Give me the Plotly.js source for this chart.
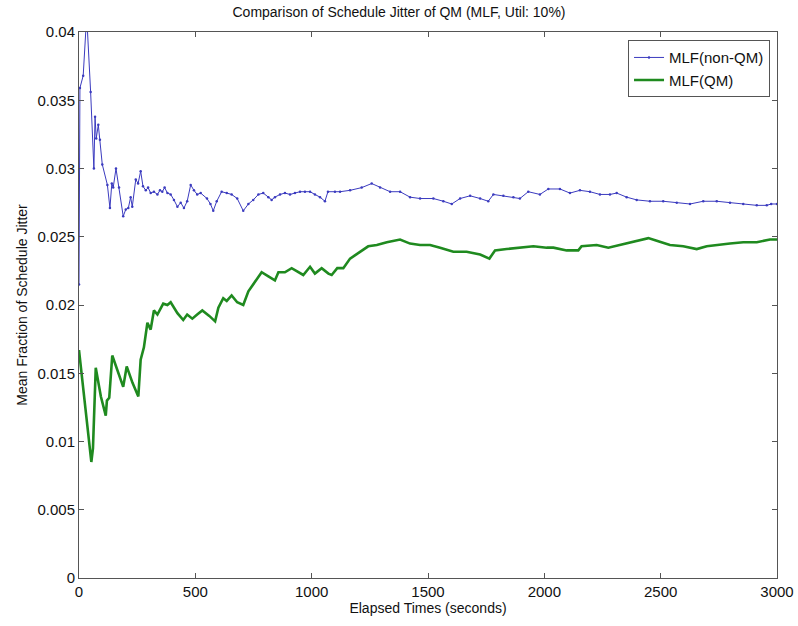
<!DOCTYPE html>
<html>
<head>
<meta charset="utf-8">
<script src="https://cdn.plot.ly/plotly-3.0.1.min.js"></script>
<style>
  html, body { margin: 0; padding: 0; background: #ffffff; }
  #chart { width: 798px; height: 626px; }
</style>
</head>
<body>
<div id="chart"></div>
<script>
// Mean fraction of schedule jitter over elapsed time, MLF scheduler at 10% utilisation
const nonQmTime = [0, 4, 18, 33, 50, 64, 69, 74, 83, 90, 100, 122, 133, 141, 147, 159, 172, 190, 201, 212,
  222, 229, 244, 254, 265, 275, 287, 297, 308, 322, 337, 348, 358, 368, 380, 394, 408, 423, 437, 451,
  465, 480, 494, 508, 523, 550, 565, 577, 592, 613, 635, 656, 680, 706, 728, 749, 771, 792, 814, 828,
  842, 864, 885, 907, 928, 950, 971, 993, 1014, 1036, 1057, 1070, 1100, 1122, 1165, 1215, 1258, 1294, 1337, 1380,
  1423, 1466, 1523, 1566, 1602, 1638, 1681, 1724, 1759, 1781, 1824, 1867, 1895, 1931, 1981, 2017, 2067, 2110, 2153, 2196,
  2239, 2282, 2311, 2354, 2397, 2454, 2511, 2569, 2626, 2683, 2741, 2798, 2855, 2913, 2956, 2975, 3000];
const nonQmJitter = [0.0215, 0.0359, 0.0368, 0.0412, 0.0356, 0.0300, 0.0338, 0.0322, 0.0332, 0.0321, 0.0303, 0.0288, 0.0271, 0.0289, 0.0286, 0.0300, 0.0286, 0.0265, 0.0270, 0.0271,
  0.0279, 0.0272, 0.0292, 0.0289, 0.0298, 0.0287, 0.0284, 0.0286, 0.0282, 0.0283, 0.0281, 0.0284, 0.0283, 0.0286, 0.0282, 0.0281, 0.0277, 0.0272, 0.0275, 0.0271,
  0.0276, 0.0288, 0.0284, 0.0281, 0.0282, 0.0278, 0.0274, 0.0269, 0.0276, 0.0283, 0.0282, 0.0281, 0.0278, 0.0269, 0.0274, 0.0277, 0.0281, 0.0282, 0.0279, 0.0277,
  0.0279, 0.0281, 0.0282, 0.0281, 0.0282, 0.0283, 0.0283, 0.0283, 0.0281, 0.0279, 0.0276, 0.0283, 0.0283, 0.0283, 0.0284, 0.0286, 0.0289, 0.0286, 0.0283, 0.0283,
  0.0279, 0.0278, 0.0278, 0.0276, 0.0274, 0.0278, 0.0280, 0.0278, 0.0276, 0.0281, 0.0280, 0.0279, 0.0278, 0.0283, 0.0281, 0.0285, 0.0285, 0.0282, 0.0284, 0.0283,
  0.0281, 0.0281, 0.0282, 0.0279, 0.0277, 0.0276, 0.0276, 0.0275, 0.0274, 0.0276, 0.0276, 0.0275, 0.0274, 0.0273, 0.0273, 0.0274, 0.0274];

const qmTime = [0, 53, 60, 72, 94, 115, 120, 130, 143, 165, 190, 205, 230, 255, 265, 279, 294, 308, 322, 337,
  362, 380, 394, 423, 448, 465, 487, 508, 530, 560, 585, 599, 620, 635, 656, 680, 706, 728, 749, 771,
  785, 814, 842, 857, 885, 914, 943, 964, 993, 1014, 1043, 1072, 1086, 1110, 1136, 1165, 1200, 1243, 1280, 1323,
  1380, 1423, 1466, 1509, 1552, 1609, 1666, 1724, 1764, 1788, 1838, 1895, 1953, 2010, 2039, 2096, 2146, 2160, 2225, 2275,
  2325, 2368, 2411, 2447, 2483, 2540, 2597, 2655, 2698, 2741, 2798, 2855, 2913, 2970, 3000];
const qmJitter = [0.0167, 0.0085, 0.0095, 0.0154, 0.0133, 0.0119, 0.0130, 0.0132, 0.0163, 0.0152, 0.0140, 0.0155, 0.0143, 0.0133, 0.0160, 0.0169, 0.0187, 0.0182, 0.0196, 0.0193,
  0.0201, 0.0200, 0.0202, 0.0194, 0.0189, 0.0193, 0.0190, 0.0193, 0.0196, 0.0192, 0.0188, 0.0198, 0.0205, 0.0203, 0.0207, 0.0202, 0.0200, 0.0210, 0.0215, 0.0221,
  0.0224, 0.0221, 0.0218, 0.0224, 0.0224, 0.0227, 0.0224, 0.0222, 0.0228, 0.0223, 0.0227, 0.0223, 0.0222, 0.0227, 0.0227, 0.0234, 0.0238, 0.0243, 0.0244, 0.0246,
  0.0248, 0.0245, 0.0244, 0.0244, 0.0242, 0.0239, 0.0239, 0.0237, 0.0234, 0.0240, 0.0241, 0.0242, 0.0243, 0.0242, 0.0242, 0.0240, 0.0240, 0.0243, 0.0244, 0.0242,
  0.0244, 0.0246, 0.0248, 0.0249, 0.0247, 0.0244, 0.0243, 0.0241, 0.0243, 0.0244, 0.0245, 0.0246, 0.0246, 0.0248, 0.0248];

const xTicks = [0, 500, 1000, 1500, 2000, 2500, 3000];
const yTicks = [0, 0.005, 0.01, 0.015, 0.02, 0.025, 0.03, 0.035, 0.04];
const yTickText = ['0', '0.005', '0.01', '0.015', '0.02', '0.025', '0.03', '0.035', '0.04'];

const font = 'Liberation Sans, Arial, sans-serif';

const traces = [
  {
    x: nonQmTime, y: nonQmJitter, name: 'MLF(non-QM)', type: 'scatter', mode: 'lines+markers',
    line: { color: '#3b3bbf', width: 1 },
    marker: { color: '#3b3bbf', size: 2.5 }
  },
  {
    x: qmTime, y: qmJitter, name: 'MLF(QM)', type: 'scatter', mode: 'lines',
    line: { color: '#1f8a1f', width: 2.6 }
  }
];

const axisCommon = {
  showgrid: false, zeroline: false,
  showline: true, linecolor: '#555555', linewidth: 1,
  mirror: 'ticks', ticks: 'inside', ticklen: 5, tickcolor: '#555555',
  tickfont: { family: font, size: 15, color: '#111111' }
};

const layout = {
  width: 798, height: 626,
  paper_bgcolor: '#ffffff', plot_bgcolor: '#ffffff',
  margin: { l: 79, r: 21, t: 32, b: 48 },
  title: {
    text: 'Comparison of Schedule Jitter of QM (MLF, Util: 10%)',
    font: { family: font, size: 14, color: '#111111' },
    x: 0.5, xanchor: 'center', y: 0.981, yanchor: 'middle', yref: 'container'
  },
  xaxis: Object.assign({}, axisCommon, {
    range: [0, 3000], tickvals: xTicks, ticktext: xTicks.map(String),
    title: { text: 'Elapsed Times (seconds)', font: { family: font, size: 14, color: '#111111' }, standoff: 2 }
  }),
  yaxis: Object.assign({}, axisCommon, {
    range: [0, 0.04], tickvals: yTicks, ticktext: yTickText,
    title: { text: 'Mean Fraction of Schedule Jitter', font: { family: font, size: 14, color: '#111111' }, standoff: 6 }
  }),
  showlegend: true,
  legend: {
    x: 0.99, xanchor: 'right', y: 0.985, yanchor: 'top',
    bgcolor: '#ffffff', bordercolor: '#555555', borderwidth: 1,
    font: { family: font, size: 15, color: '#111111' },
    tracegroupgap: 0, itemwidth: 30
  }
};

Plotly.newPlot('chart', traces, layout, { displayModeBar: false, staticPlot: true });
</script>
</body>
</html>
